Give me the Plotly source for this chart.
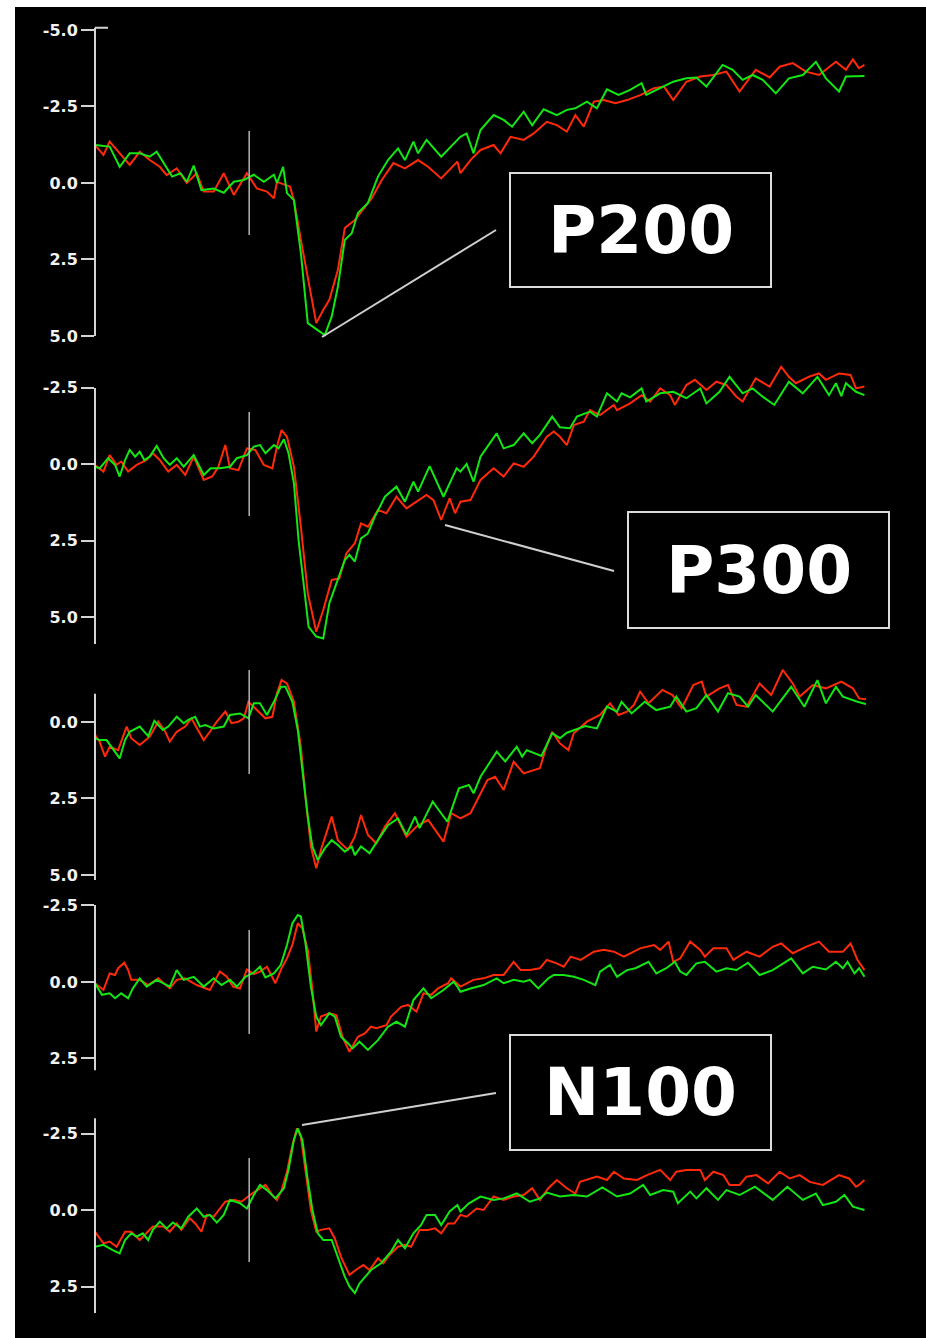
import plotly.graph_objects as go

# ---------------- data (time in ms, amplitude in uV; negative plotted up) ----------------
P1_GREEN = [(-200,-1.24),(-181,-1.19),(-168,-0.53),(-155,-0.97),(-142,-0.97),(-129,-0.86),(-120,-1.02),(-111,-0.65),(-100,-0.21),(-89,-0.32),
            (-81,-0.04),(-72,-0.57),(-62,0.23),(-46,0.18),(-33,0.32),(-20,-0.04),(-7,-0.10),(6,-0.27),(19,-0.04),(32,-0.27),
            (36,0.0),(44,-0.53),(49,0.33),(58,0.56),(67,2.29),(76,4.58),(89,4.80),(98,4.97),(107,4.37),(115,3.39),
            (124,1.86),(133,1.64),(141,0.98),(154,0.65),(167,-0.21),(180,-0.75),(193,-1.13),(202,-0.75),(213,-1.35),(219,-0.97),
            (230,-1.41),(249,-0.86),(270,-1.41),(274,-1.51),(282,-1.62),(291,-0.97),(300,-1.73),(317,-2.22),(330,-2.06),(341,-1.84),
            (356,-2.33),(367,-1.89),(382,-2.41),(399,-2.22),(412,-2.39),(423,-2.44),(438,-2.66),(451,-2.44),(464,-3.06),(479,-2.88),
            (494,-3.04),(509,-3.26),(515,-2.88),(533,-3.10),(550,-3.31),(567,-3.42),(580,-3.45),(593,-3.15),(614,-3.86),(627,-3.70),
            (640,-3.37),(653,-3.53),(666,-3.37),(683,-2.93),(700,-3.42),(718,-3.53),(735,-3.96),(748,-3.42),(765,-2.99),(774,-3.48),(798,-3.50)]
P1_RED = [(-200,-1.24),(-189,-0.92),(-181,-1.35),(-168,-0.97),(-155,-0.59),(-142,-1.02),(-129,-0.75),(-116,-0.53),(-107,-0.26),(-94,-0.48),
          (-81,0.0),(-68,-0.32),(-59,0.28),(-46,0.28),(-33,-0.32),(-20,0.39),(-3,-0.32),(10,0.18),(23,0.28),(32,0.50),
          (36,-0.04),(53,0.12),(58,0.56),(67,1.86),(76,3.06),(87,4.58),(96,4.15),(104,3.82),(115,2.84),(124,1.47),
          (137,1.21),(150,0.77),(159,0.50),(172,-0.10),(187,-0.65),(202,-0.48),(219,-0.75),(232,-0.53),(249,-0.15),(270,-0.70),
          (274,-0.32),(287,-0.75),(300,-1.08),(317,-1.24),(326,-0.97),(339,-1.51),(356,-1.41),(369,-1.62),(386,-2.0),(399,-1.89),
          (412,-1.68),(423,-2.22),(434,-1.84),(447,-2.66),(460,-2.71),(475,-2.61),(490,-2.71),(508,-2.88),(525,-3.10),(538,-3.15),
          (550,-2.71),(567,-3.31),(585,-3.48),(602,-3.53),(619,-3.64),(636,-2.99),(657,-3.70),(675,-3.45),(688,-3.80),(705,-3.92),
          (722,-3.64),(739,-3.53),(761,-3.96),(774,-3.70),(783,-4.04),(791,-3.75),(798,-3.86)]

P2_GREEN = [(-200,0.09),(-194,0.14),(-183,-0.19),(-174,0.03),(-168,0.41),(-161,-0.13),(-155,-0.46),(-148,-0.24),(-142,-0.40),(-136,-0.13),
            (-129,-0.24),(-120,-0.59),(-111,-0.19),(-103,0.03),(-94,-0.19),(-85,0.09),(-72,-0.29),(-59,0.36),(-50,0.14),(-38,0.14),
            (-25,0.09),(-16,-0.19),(-3,-0.29),(6,-0.57),(14,-0.62),(21,-0.35),(32,-0.62),(38,-0.51),(45,-0.81),(51,-0.35),
            (58,0.63),(64,2.48),(71,4.0),(77,5.32),(87,5.64),(96,5.70),(104,4.55),(113,3.90),(124,3.14),(130,2.97),
            (137,3.19),(145,2.43),(154,2.27),(163,1.72),(176,1.07),(191,0.74),(202,1.23),(213,0.58),(219,0.90),(234,0.07),
            (252,1.07),(269,0.14),(274,0.25),(282,0.0),(291,0.58),(300,-0.24),(321,-1.0),(330,-0.51),(343,-0.62),(356,-1.0),
            (367,-0.68),(377,-0.95),(393,-1.55),(403,-1.20),(416,-1.17),(425,-1.55),(442,-1.71),(451,-1.55),(464,-2.31),(477,-2.04),
            (483,-2.31),(494,-2.18),(509,-2.47),(515,-2.04),(533,-2.31),(550,-2.36),(567,-2.15),(585,-2.47),(593,-1.98),(610,-2.36),
            (623,-2.85),(640,-2.31),(653,-2.47),(666,-2.20),(681,-1.93),(700,-2.69),(718,-2.31),(737,-2.85),(752,-2.25),(761,-2.64),
            (768,-2.22),(774,-2.64),(787,-2.36),(798,-2.25)]
P2_RED = [(-200,0.03),(-189,0.25),(-181,-0.29),(-172,0.03),(-166,-0.08),(-157,0.25),(-146,0.03),(-133,-0.13),(-125,-0.35),(-116,-0.13),
          (-105,0.25),(-94,0.03),(-83,0.36),(-72,-0.24),(-59,0.52),(-48,0.41),(-40,0.09),(-31,-0.62),(-25,0.14),(-14,0.20),
          (-3,-0.51),(8,-0.46),(19,0.03),(30,0.14),(36,-0.57),(42,-1.11),(49,-0.89),(58,0.09),(67,2.05),(76,4.23),
          (87,5.48),(96,4.77),(107,3.79),(117,3.74),(126,2.92),(137,2.59),(145,1.94),(154,2.05),(167,1.50),(178,1.61),
          (191,1.07),(204,1.45),(217,1.23),(230,1.01),(239,1.18),(249,1.83),(260,1.12),(267,1.61),(274,1.23),(287,1.18),
          (300,0.52),(317,0.14),(330,0.41),(343,-0.02),(356,0.09),(369,-0.24),(386,-0.89),(395,-1.06),(403,-0.89),(412,-0.62),
          (421,-1.27),(434,-1.38),(442,-1.76),(455,-1.60),(473,-1.93),(477,-1.76),(494,-1.98),(509,-2.25),(520,-2.04),(533,-2.47),
          (546,-2.25),(552,-1.93),(567,-2.58),(578,-2.75),(593,-2.42),(606,-2.69),(619,-2.58),(632,-2.20),(640,-2.04),(657,-2.80),
          (675,-2.53),(690,-3.18),(700,-2.85),(709,-2.64),(726,-2.85),(739,-2.96),(748,-2.75),(765,-2.96),(780,-2.91),(787,-2.47),(798,-2.53)]

P3_GREEN = [(-200,0.53),(-194,0.59),(-185,0.59),(-177,0.86),(-168,1.19),(-161,0.59),(-155,0.32),(-142,0.15),(-131,0.46),(-123,-0.04),
            (-112,0.26),(-105,0.15),(-94,-0.17),(-85,0.04),(-79,-0.07),(-70,-0.17),(-64,0.15),(-57,0.10),(-46,0.21),(-33,0.15),
            (-25,-0.23),(-12,-0.28),(-1,-0.12),(6,-0.61),(14,-0.61),(23,-0.23),(32,-0.66),(41,-1.15),(47,-1.15),(56,-0.66),
            (63,0.26),(69,1.57),(76,3.09),(82,4.07),(89,4.51),(98,4.13),(107,3.86),(115,4.02),(124,4.24),(133,4.07),
            (137,4.35),(145,4.07),(156,4.29),(167,3.86),(180,3.37),(193,3.15),(204,3.69),(215,3.09),(221,3.47),(238,2.60),
            (257,3.26),(272,2.17),(285,2.06),(291,2.33),(300,1.79),(321,0.97),(332,1.29),(347,0.81),(354,1.13),(360,0.92),
            (379,1.11),(393,0.37),(403,0.53),(412,0.35),(423,0.26),(436,0.13),(451,0.21),(464,-0.50),(477,-0.34),(483,-0.66),
            (496,-0.28),(513,-0.66),(528,-0.39),(546,-0.50),(554,-0.83),(567,-0.34),(580,-0.45),(593,-0.88),(608,-0.34),(621,-0.94),
            (636,-0.83),(647,-0.50),(657,-0.88),(679,-0.34),(703,-1.15),(720,-0.50),(737,-1.37),(748,-0.61),(761,-1.15),(770,-0.83),
            (789,-0.66),(800,-0.59)]
P3_RED = [(-200,0.42),(-194,0.64),(-187,1.13),(-181,0.81),(-170,0.92),(-159,0.15),(-153,0.53),(-142,0.75),(-129,0.48),(-118,-0.01),
          (-110,0.26),(-103,0.64),(-94,0.32),(-83,0.15),(-75,-0.12),(-68,0.21),(-59,0.59),(-51,0.32),(-42,-0.01),(-31,-0.34),
          (-23,0.04),(-14,-0.01),(-7,-0.12),(-1,-0.66),(8,-0.45),(21,-0.12),(30,-0.17),(36,-0.94),(42,-1.37),(49,-1.26),
          (58,-0.66),(67,0.81),(73,2.44),(80,4.07),(87,4.78),(93,4.18),(100,3.64),(107,3.09),(115,3.86),(128,4.18),
          (137,3.75),(145,3.04),(154,3.69),(165,3.97),(176,3.42),(189,2.98),(204,3.75),(217,3.42),(232,3.20),(241,3.53),
          (252,3.91),(262,2.98),(274,3.15),(287,2.98),(300,2.33),(309,1.90),(319,1.79),(330,2.22),(343,1.30),(356,1.68),
          (377,1.51),(384,0.92),(393,0.32),(403,0.70),(414,0.92),(421,0.37),(438,-0.01),(447,-0.12),(455,-0.23),(468,-0.61),
          (479,-0.23),(490,-0.34),(499,-0.56),(507,-0.99),(518,-0.61),(536,-1.05),(549,-0.88),(561,-0.45),(576,-1.21),(587,-1.32),
          (593,-0.83),(610,-1.10),(621,-1.21),(632,-0.56),(645,-0.50),(662,-1.26),(677,-0.88),(692,-1.70),(705,-1.26),(714,-0.83),
          (731,-1.21),(748,-1.10),(768,-1.32),(783,-1.10),(791,-0.77),(800,-0.74)]

P4_GREEN = [(-200,0.04),(-191,0.42),(-181,0.37),(-174,0.53),(-166,0.37),(-157,0.53),(-151,0.21),(-142,-0.12),(-133,0.15),(-120,-0.07),
            (-103,0.15),(-94,-0.39),(-85,-0.07),(-72,-0.17),(-59,0.15),(-46,-0.12),(-36,0.10),(-25,-0.07),(-16,0.15),(-5,-0.17),
            (6,-0.31),(14,-0.50),(21,-0.15),(32,-0.28),(41,-0.56),(49,-1.21),(56,-1.92),(63,-2.19),(67,-2.14),(73,-1.26),
            (80,0.15),(87,1.13),(93,1.41),(104,1.02),(111,1.13),(119,1.79),(128,2.00),(134,2.17),(143,1.95),(154,2.22),
            (167,1.90),(180,1.46),(191,1.30),(202,1.46),(213,0.59),(226,0.21),(236,0.53),(252,0.26),(265,-0.01),(270,0.15),
            (274,0.32),(287,0.21),(304,0.10),(321,-0.12),(330,0.04),(343,-0.07),(356,-0.01),(364,-0.07),(375,0.21),(388,-0.12),
            (395,-0.23),(408,-0.23),(421,-0.17),(434,-0.07),(449,0.10),(455,-0.34),(468,-0.56),(477,-0.17),(490,-0.39),(501,-0.45),
            (518,-0.66),(528,-0.28),(541,-0.45),(552,-0.66),(559,-0.34),(567,-0.23),(580,-0.61),(591,-0.66),(606,-0.34),(619,-0.45),
            (632,-0.39),(647,-0.63),(662,-0.23),(679,-0.39),(703,-0.77),(718,-0.28),(731,-0.50),(748,-0.41),(761,-0.66),(770,-0.45),
            (776,-0.66),(785,-0.28),(791,-0.45),(798,-0.17)]
P4_RED = [(-200,0.04),(-189,0.26),(-181,-0.28),(-174,-0.23),(-170,-0.45),(-162,-0.63),(-157,-0.39),(-153,-0.07),(-142,-0.07),(-131,0.10),
          (-118,-0.12),(-103,0.21),(-94,-0.07),(-83,-0.12),(-68,0.10),(-51,0.26),(-38,-0.34),(-29,-0.17),(-21,0.15),(-12,0.21),
          (-3,-0.41),(6,-0.26),(14,-0.34),(23,-0.50),(34,0.04),(42,-0.45),(49,-0.77),(56,-1.21),(63,-1.92),(69,-1.75),
          (76,-1.05),(82,0.26),(87,1.62),(93,1.13),(104,1.02),(113,1.08),(121,1.79),(130,2.28),(141,1.79),(150,1.68),
          (158,1.46),(165,1.51),(178,1.41),(184,1.13),(197,0.81),(206,0.75),(217,0.97),(226,0.37),(236,0.42),(245,0.21),
          (258,0.04),(262,-0.12),(274,0.15),(291,-0.07),(304,-0.12),(317,-0.23),(330,-0.23),(343,-0.66),(352,-0.39),(364,-0.39),
          (377,-0.45),(386,-0.72),(399,-0.61),(408,-0.50),(417,-0.83),(430,-0.72),(447,-0.99),(460,-1.05),(473,-0.99),(486,-0.83),
          (507,-1.10),(525,-1.21),(533,-1.05),(544,-1.32),(550,-0.66),(559,-0.77),(572,-1.32),(585,-1.05),(591,-0.83),(602,-1.10),
          (619,-1.10),(628,-0.72),(645,-0.99),(662,-0.83),(679,-1.15),(690,-1.26),(705,-0.94),(722,-1.15),(739,-1.32),(752,-0.99),
          (770,-0.99),(780,-1.26),(789,-0.72),(798,-0.39)]

P5_GREEN = [(-200,1.20),(-189,1.14),(-177,1.31),(-168,1.42),(-161,0.98),(-153,0.76),(-146,0.87),(-138,0.76),(-131,0.98),(-125,0.65),
            (-116,0.38),(-107,0.60),(-99,0.41),(-88,0.60),(-79,0.22),(-68,-0.05),(-59,0.22),(-51,0.16),(-42,0.41),(-33,0.16),
            (-25,-0.33),(-12,-0.22),(-3,-0.05),(6,-0.49),(14,-0.82),(23,-0.65),(34,-0.38),(45,-0.71),(51,-1.31),(58,-2.29),
            (63,-2.67),(69,-2.29),(76,-0.98),(82,0.0),(89,0.76),(96,0.98),(107,0.98),(115,1.53),(124,2.18),(130,2.50),
            (137,2.72),(143,2.40),(158,1.96),(171,1.74),(184,1.36),(193,0.98),(202,1.25),(213,0.76),(223,0.49),(230,0.16),
            (241,0.16),(249,0.49),(260,0.05),(270,-0.16),(274,0.05),(285,-0.22),(300,-0.44),(317,-0.33),(330,-0.38),(347,-0.54),
            (364,-0.27),(377,-0.38),(386,-0.57),(403,-0.44),(421,-0.49),(438,-0.44),(458,-0.74),(477,-0.44),(494,-0.54),(511,-0.82),
            (520,-0.49),(537,-0.65),(550,-0.60),(556,-0.22),(572,-0.60),(580,-0.38),(593,-0.71),(608,-0.33),(619,-0.65),(636,-0.49),
            (656,-0.76),(679,-0.33),(698,-0.76),(718,-0.33),(735,-0.54),(744,-0.16),(761,-0.27),(772,-0.49),(783,-0.11),(798,0.0)]
P5_RED = [(-200,0.71),(-189,1.09),(-181,1.03),(-172,1.20),(-161,0.71),(-153,0.71),(-142,0.98),(-131,0.71),(-125,0.54),(-111,0.54),
          (-103,0.71),(-94,0.44),(-88,0.65),(-77,0.27),(-70,0.44),(-62,0.71),(-55,0.16),(-46,0.22),(-38,-0.05),(-31,-0.27),
          (-20,-0.33),(-10,-0.27),(1,-0.49),(10,-0.65),(21,-0.82),(30,-0.49),(36,-0.33),(42,-0.65),(49,-1.25),(56,-2.12),
          (62,-2.67),(67,-2.40),(73,-1.31),(80,0.0),(87,0.71),(93,0.65),(104,0.60),(111,0.93),(119,1.53),(130,2.12),
          (141,1.91),(148,1.80),(156,1.96),(167,1.58),(174,1.74),(182,1.47),(193,1.20),(202,1.14),(210,1.20),(221,0.65),
          (232,0.65),(241,0.60),(249,0.76),(258,0.44),(266,0.44),(274,0.16),(282,0.22),(295,-0.05),(304,0.0),(317,-0.44),
          (330,-0.33),(343,-0.44),(356,-0.49),(367,-0.71),(377,-0.33),(388,-0.71),(399,-0.98),(412,-0.71),(423,-0.54),(429,-0.92),
          (451,-1.09),(464,-0.98),(473,-1.25),(486,-1.03),(503,-0.98),(516,-1.14),(533,-1.31),(546,-0.98),(554,-1.25),(567,-1.31),
          (585,-1.31),(591,-0.98),(602,-1.25),(615,-1.14),(623,-0.82),(636,-0.82),(645,-1.09),(658,-1.14),(673,-0.87),(688,-1.25),
          (701,-1.03),(714,-1.14),(727,-0.92),(744,-0.82),(765,-1.14),(778,-1.03),(787,-0.76),(791,-0.82),(798,-0.98)]

TICKS = [[-5.0, -2.5, 0.0, 2.5, 5.0], [-2.5, 0.0, 2.5, 5.0], [0.0, 2.5, 5.0], [-2.5, 0.0, 2.5], [-2.5, 0.0, 2.5]]
AXIS_SPAN = [(-5.07, 5.0), (-2.48, 5.88), (-0.92, 5.16), (-2.52, 2.88), (-3.0, 3.37)]
LABELS = ["P200", "P300", "N100"]

# ---------------- layout geometry ----------------
W, H = 926, 1338
X0_PX, X1_PX = 95, 866
T_MIN, T_MAX = -200, 800
S = 30.6                      # px per unit
ZERO_PX = [183, 464, 722, 982, 1210]
PAD_TOP, PAD_BOT = 0.8, 0.4

RED = "#ff2a0a"
GREEN = "#14e614"
AX_COL = "#d4d4d4"

def fy(px):
    return 1 - px / H

def fx(px):
    return px / W

fig = go.Figure()
layout = dict(
    width=W, height=H, margin=dict(l=0, r=0, t=0, b=0),
    paper_bgcolor="black", plot_bgcolor="rgba(0,0,0,0)", showlegend=False,
    xaxis=dict(domain=[fx(X0_PX), fx(X1_PX)], range=[T_MIN, T_MAX], visible=False, fixedrange=True),
)
shapes = []
panels = [(P1_RED, P1_GREEN), (P2_RED, P2_GREEN), (P3_RED, P3_GREEN), (P4_RED, P4_GREEN), (P5_RED, P5_GREEN)]
for i, (red, green) in enumerate(panels):
    n = i + 1
    yname = "y" if n == 1 else f"y{n}"
    lname = "yaxis" if n == 1 else f"yaxis{n}"
    vt, vb = AXIS_SPAN[i]
    rt, rb = vt - PAD_TOP, vb + PAD_BOT
    top_px = ZERO_PX[i] + rt * S
    bot_px = ZERO_PX[i] + rb * S
    layout[lname] = dict(
        domain=[fy(bot_px), fy(top_px)], range=[rb, rt], anchor="x",
        showgrid=False, zeroline=False, showline=False,
        ticks="outside", ticklen=13, tickwidth=2, tickcolor=AX_COL,
        tickvals=TICKS[i], ticktext=[f"{v:.1f}" for v in TICKS[i]],
        tickfont=dict(family="DejaVu Sans", size=16, color="#f2f2f2", weight="bold"),
        fixedrange=True,
    )
    for data, col in ((red, RED), (green, GREEN)):
        fig.add_trace(go.Scatter(
            x=[p[0] for p in data], y=[p[1] for p in data], xaxis="x", yaxis=yname,
            mode="lines", line=dict(color=col, width=2), hoverinfo="skip"))
    # axis line
    shapes.append(dict(type="line", xref="paper", yref=yname, x0=fx(X0_PX), x1=fx(X0_PX), y0=vt, y1=vb,
                       line=dict(color=AX_COL, width=2)))
    # stimulus onset marker
    shapes.append(dict(type="line", xref="x", yref=yname, x0=0, x1=0, y0=-1.7, y1=1.7,
                       line=dict(color="#b4b4b4", width=1.5)))

# small cap at the top of the first axis
shapes.append(dict(type="line", xref="paper", yref="y", x0=fx(X0_PX), x1=fx(108), y0=AXIS_SPAN[0][0], y1=AXIS_SPAN[0][0],
                   line=dict(color=AX_COL, width=2)))

# label boxes, leader lines and texts (pixel geometry)
boxes = [(510, 173, 771, 287), (628, 512, 889, 628), (510, 1035, 771, 1150)]
leaders = [((322, 337), (496, 230)), ((445, 525), (614, 571)), ((302, 1125), (496, 1093))]
annotations = []
for lab, (bx0, by0, bx1, by1), ((lx0, ly0), (lx1, ly1)) in zip(LABELS, boxes, leaders):
    shapes.append(dict(type="rect", xref="paper", yref="paper", x0=fx(bx0), x1=fx(bx1), y0=fy(by1), y1=fy(by0),
                       line=dict(color="#dcdcdc", width=2), fillcolor="black"))
    shapes.append(dict(type="line", xref="paper", yref="paper", x0=fx(lx0), x1=fx(lx1), y0=fy(ly0), y1=fy(ly1),
                       line=dict(color="#cfcfcf", width=2)))
    annotations.append(dict(xref="paper", yref="paper", x=fx((bx0 + bx1) / 2), y=fy((by0 + by1) / 2),
                            text=f"<b>{lab}</b>", showarrow=False, xanchor="center", yanchor="middle",
                            font=dict(family="DejaVu Sans", size=66, color="white")))

# white page edges
shapes.append(dict(type="rect", xref="paper", yref="paper", x0=0, x1=fx(15), y0=0, y1=1,
                   line=dict(width=0), fillcolor="white", layer="above"))
shapes.append(dict(type="rect", xref="paper", yref="paper", x0=0, x1=1, y0=fy(7), y1=1,
                   line=dict(width=0), fillcolor="white", layer="above"))

layout["shapes"] = shapes
layout["annotations"] = annotations
fig.update_layout(**layout)

fig.write_html("out.html", config={"displayModeBar": False},
               post_script="document.body.style.margin='0';document.body.style.background='black';")
